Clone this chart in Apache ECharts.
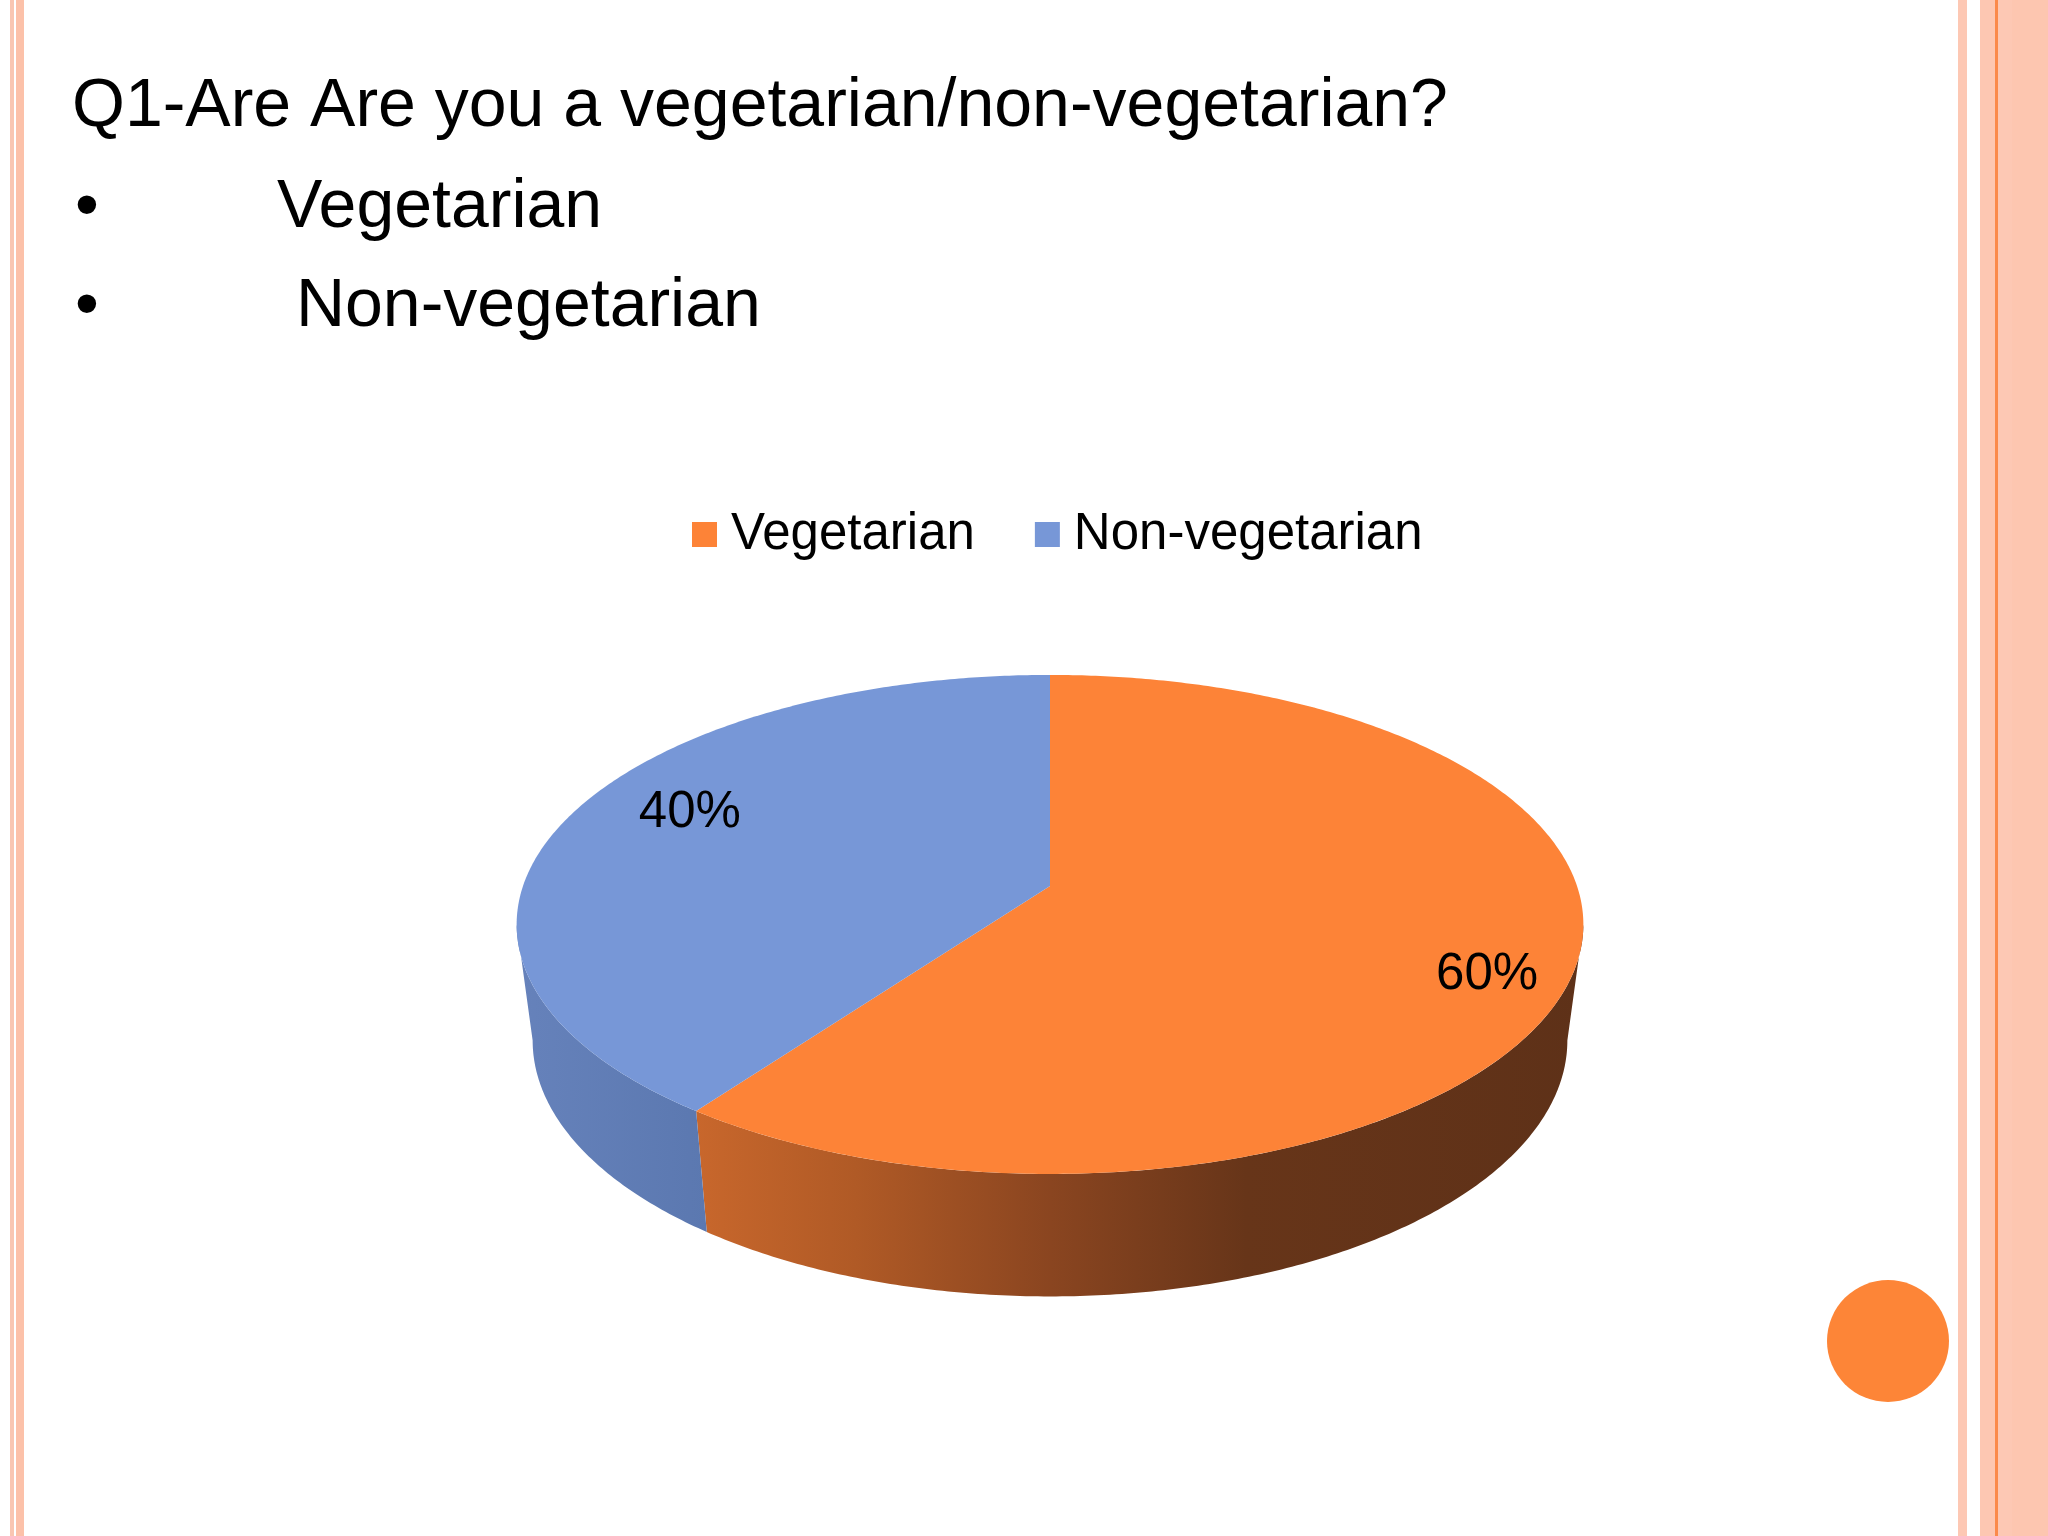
<!DOCTYPE html>
<html>
<head>
<meta charset="utf-8">
<script src="https://cdn.jsdelivr.net/npm/echarts@6/dist/echarts.min.js"></script>
<style>
  html, body { margin: 0; padding: 0; background: #fff; }
  #chart { width: 2048px; height: 1536px; }
</style>
</head>
<body>
<div id="chart"></div>
<script>
const categories = ['Vegetarian', 'Non-vegetarian'];
const shares = [60, 40];
const topColors = ['#fd8337', '#7797d7'];
const sideStops = [
  [[0, '#c8672c'], [0.18, '#b05a26'], [0.4, '#8a4520'], [0.62, '#673519'], [1, '#5e3118']],
  [[0, '#6682bb'], [1, '#5b78b0']]
];
// small nudges so the % labels sit where the original best-fit put them
const labelNudge = [[4, 24], [40, -13]];
const questionText = 'Q1-Are Are you a vegetarian/non-vegetarian?';
const bulletItems = ['Vegetarian', ' Non-vegetarian'];

const FONT = '"Liberation Sans", Arial, sans-serif';

const total = shares.reduce((a, b) => a + b, 0);
const startAt = [];
let acc = 0;
shares.forEach(v => { startAt.push(acc); acc += v; });

// tilted disc with a bit of perspective (k); bottom face a little smaller and rounder
const pie = { cx: 1050, cy: 886, R: 527, S: 243.6, k: 0.154, depth: 115, rBottom: 0.97, sBottom: 1.026 };
// angles where the rim's outline is widest -> visible wall runs between them
const wallFrom = Math.acos(-pie.k);
const wallTo = Math.PI * 2 - wallFrom;

function project(theta, f, bottom) {
  const u = f * Math.sin(theta), w = -f * Math.cos(theta);
  const d = 1 - pie.k * w;
  const r = bottom ? pie.R * pie.rBottom : pie.R;
  const s = bottom ? pie.S * pie.sBottom : pie.S;
  return [pie.cx + r * u / d, pie.cy + s * w / d + (bottom ? pie.depth : 0)];
}

function arc(a0, a1, bottom) {
  const n = Math.max(2, Math.ceil((a1 - a0) / 0.01));
  const pts = [];
  for (let j = 0; j <= n; j++) pts.push(project(a0 + (a1 - a0) * j / n, 1, bottom));
  return pts;
}

function renderSlice(i, api) {
  const a0 = startAt[i] / total * Math.PI * 2;
  const a1 = (startAt[i] + api.value(0)) / total * Math.PI * 2;
  const children = [];

  // front wall
  const s0 = Math.max(a0, wallFrom), s1 = Math.min(a1, wallTo);
  if (s1 > s0) {
    const topArc = arc(s0, s1, false);
    const botArc = arc(s0, s1, true).reverse();
    const xs = topArc.concat(botArc).map(p => p[0]);
    const x0 = Math.min(...xs), x1 = Math.max(...xs);
    children.push({
      type: 'polygon',
      z2: 1,
      shape: { points: topArc.concat(botArc) },
      style: {
        fill: {
          type: 'linear', x: x0, y: 0, x2: x1, y2: 0, global: true,
          colorStops: sideStops[i].map(s => ({ offset: s[0], color: s[1] }))
        }
      }
    });
  }

  // top face
  children.push({
    type: 'polygon',
    z2: 10,
    shape: { points: [project(0, 0, false)].concat(arc(a0, a1, false)) },
    style: { fill: topColors[i] }
  });

  // percent label
  const mid = (a0 + a1) / 2;
  const lp = project(mid, 0.83, false);
  children.push({
    type: 'text',
    z2: 20,
    x: lp[0] + labelNudge[i][0], y: lp[1] + labelNudge[i][1],
    style: {
      text: Math.round(api.value(0) / total * 100) + '%',
      font: '51px ' + FONT, fill: '#000',
      align: 'center', verticalAlign: 'middle'
    }
  });

  return { type: 'group', children: children };
}

const chart = echarts.init(document.getElementById('chart'));

const deco = [
  { type: 'rect', shape: { x: 10, y: 0, width: 4, height: 1536 }, style: { fill: '#f9c6b2' } },
  { type: 'rect', shape: { x: 16, y: 0, width: 8, height: 1536 }, style: { fill: '#fcc1a9' } },
  { type: 'rect', shape: { x: 1958, y: 0, width: 9, height: 1536 }, style: { fill: '#fdc8b4' } },
  { type: 'rect', shape: { x: 1980, y: 0, width: 15, height: 1536 }, style: { fill: '#fdc7b2' } },
  { type: 'rect', shape: { x: 1995, y: 0, width: 3, height: 1536 }, style: { fill: '#fb8a4b' } },
  { type: 'rect', shape: { x: 1998, y: 0, width: 14, height: 1536 }, style: { fill: '#fdc8b4' } },
  { type: 'rect', shape: { x: 2012, y: 0, width: 36, height: 1536 }, style: { fill: '#fdc6b0' } },
  { type: 'circle', shape: { cx: 1888, cy: 1341, r: 61 }, style: { fill: '#fd8537' } },
  { type: 'text', x: 72, y: 107, style: { text: questionText, font: '68px ' + FONT, fill: '#000', verticalAlign: 'middle' } },
  { type: 'text', x: 75, y: 208, style: { text: '•', font: '68px ' + FONT, fill: '#000', verticalAlign: 'middle' } },
  { type: 'text', x: 277, y: 208, style: { text: bulletItems[0], font: '68px ' + FONT, fill: '#000', verticalAlign: 'middle' } },
  { type: 'text', x: 75, y: 307, style: { text: '•', font: '68px ' + FONT, fill: '#000', verticalAlign: 'middle' } },
  { type: 'text', x: 277, y: 307, style: { text: bulletItems[1], font: '68px ' + FONT, fill: '#000', verticalAlign: 'middle' } }
];

chart.setOption({
  backgroundColor: '#ffffff',
  animation: false,
  graphic: deco,
  legend: {
    data: categories,
    left: 692,
    top: 509,
    padding: 0,
    icon: 'rect',
    itemWidth: 25,
    itemHeight: 25,
    itemGap: 60,
    selectedMode: false,
    textStyle: { fontSize: 51, fontFamily: FONT, color: '#000', padding: [0, 0, 0, 9] }
  },
  series: categories.map((name, i) => ({
    type: 'custom',
    name: name,
    coordinateSystem: 'none',
    silent: true,
    itemStyle: { color: topColors[i] },
    data: [[shares[i]]],
    renderItem: (params, api) => renderSlice(i, api)
  }))
});
</script>
</body>
</html>
